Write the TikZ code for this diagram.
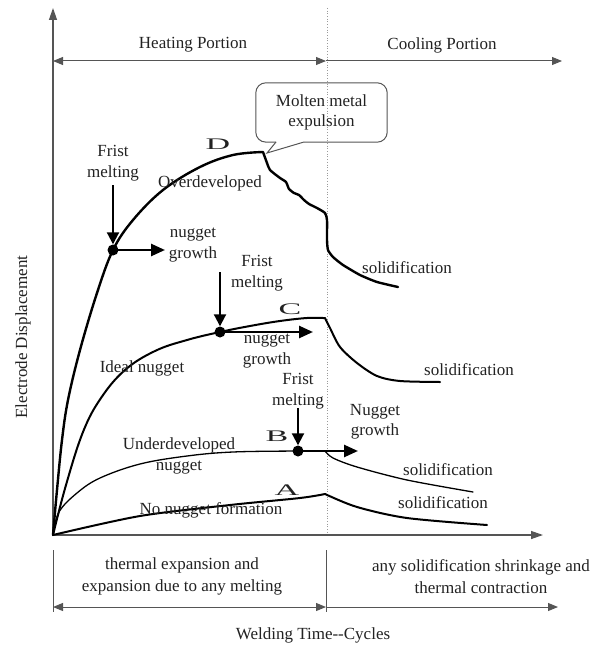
\documentclass[tikz,border=0pt]{standalone}
\usepackage{fontspec}
\usepackage{graphicx}
\setmainfont{Liberation Serif}
\usetikzlibrary{arrows.meta}

\definecolor{ink}{HTML}{222222}
\definecolor{axisgray}{HTML}{555555}
\definecolor{guidegray}{HTML}{9A9A9A}

\tikzset{
  lbl/.style={font=\fontsize{17}{20.5}\selectfont, text=ink, inner sep=0pt, align=center},
  letter/.style={font=\fontsize{17}{20}\selectfont, text=ink, inner sep=0pt},
  axisline/.style={draw=axisgray, line width=1.3pt, -{Triangle[length=12pt,width=8pt]}},
  spanline/.style={draw=axisgray, line width=1pt, {Triangle[length=10pt,width=8pt]}-{Triangle[length=10pt,width=8pt]}},
  spanright/.style={draw=axisgray, line width=1pt, -{Triangle[length=10pt,width=8pt]}},
  tick/.style={draw=axisgray, line width=1pt},
  guide/.style={draw=guidegray, line width=0.7pt, dotted},
  meltarrow/.style={draw=black, line width=2pt, -{Triangle[length=12pt,width=12pt]}},
  growarrow/.style={draw=black, line width=2.5pt, -{Triangle[length=14pt,width=12pt]}},
  dot/.style={circle, fill=black, inner sep=0pt, minimum size=11pt},
  curve/.style={draw=black, line cap=round, line join=round},
}

\begin{document}
\begin{tikzpicture}[x=1pt, y=-1pt]
\useasboundingbox (0,0) rectangle (594,650);

% axes and the heating / cooling boundary
\coordinate (O) at (53,535);
\coordinate (ytop) at (53,8);
\coordinate (xend) at (543,535);
\coordinate (gtop) at (327,8);
\coordinate (gbot) at (327,535);
\draw[guide] (gtop) -- (gbot);
\draw[axisline] (O) -- (ytop);
\draw[axisline] (O) -- (xend);

% top span arrows
\coordinate (hl) at (53,61);
\coordinate (hr) at (326,61);
\coordinate (cr) at (562,61);
\draw[spanline] (hl) -- (hr);
\draw[spanright] (hr) -- (cr);
\node[lbl] (heat) at (193,45) {Heating Portion};
\node[lbl] (cool) at (442,45) {Cooling Portion};

% bottom span arrows
\coordinate (bl1) at (53,550);
\coordinate (bl2) at (53,612);
\coordinate (bm1) at (326,550);
\coordinate (bm2) at (326,612);
\coordinate (bal) at (53,607);
\coordinate (bam) at (326,607);
\coordinate (bar) at (558,607);
\draw[tick] (bl1) -- (bl2);
\draw[tick] (bm1) -- (bm2);
\draw[spanline] (bal) -- (bam);
\draw[spanright] (bam) -- (bar);
\node[lbl] (expand) at (182,576) {thermal expansion and\\[1.5pt]expansion due to any melting};
\node[lbl] (shrink) at (481,577) {any solidification shrinkage and\\[1.5pt]thermal contraction};

% axis titles
\node[lbl] (xtitle) at (313,635) {Welding Time-{}-Cycles};
\node[lbl, rotate=90] (ytitle) at (23,337) {Electrode Displacement};

% curve D (overdeveloped, with expulsion)
\draw[curve, line width=2.4pt]
  plot[smooth, tension=0.6] coordinates {(53,535) (57,490) (62,440) (68,400) (80,350) (97,293) (113,250) (133,220) (163,190) (200,167) (233,155) (263,152)}
  -- plot[smooth, tension=0.35] coordinates {(263,152) (267,163) (270,170) (280,178) (286,182) (289,189) (294,193) (299,195) (304,200) (309,204) (317,208) (325,213) (327,220) (327,240) (328,250) (333,257) (343,265) (360,275) (377,282) (398,287)};

% curve C (ideal nugget)
\draw[curve, line width=2pt]
  plot[smooth, tension=0.65] coordinates {(53,535) (66,485) (83,432) (101,398) (125,370) (155,351) (187,340) (220,332) (250,326) (280,321) (307,318) (323,318)}
  -- plot[smooth, tension=0.5] coordinates {(325,318) (330,328) (340,347) (357,363) (377,376) (400,381) (440,382)};

% curve B (underdeveloped nugget)
\draw[curve, line width=1.3pt]
  plot[smooth, tension=0.6] coordinates {(53,535) (59,512) (77,493) (100,478) (140,464) (187,456) (233,452) (298,451) (325,451)}
  -- plot[smooth, tension=0.5] coordinates {(325,451) (333,458) (357,467) (407,480) (473,492)};

% curve A (no nugget)
\draw[curve, line width=2pt]
  plot[smooth, tension=0.5] coordinates {(53,535) (140,516) (230,505) (300,498) (325,494)}
  -- plot[smooth, tension=0.5] coordinates {(325,494) (357,507) (407,518) (487,525)};

% curve letters
\node[letter] (lD) at (218,144) {\scalebox{2}[0.95]{D}};
\node[letter] (lC) at (290,309) {\scalebox{2}[0.95]{C}};
\node[letter] (lB) at (277,436) {\scalebox{2}[0.95]{B}};
\node[letter] (lA) at (287,490) {\scalebox{2}[0.95]{A}};

% curve descriptions
\node[lbl] (over) at (210,183) {Overdeveloped};
\node[lbl] (ideal) at (142,368) {Ideal nugget};
\node[lbl] (under) at (179,456) {Underdeveloped\\nugget};
\node[lbl] (none) at (211,510) {No nugget formation};
\node[lbl] (solD) at (407,268) {solidification};
\node[lbl] (solC) at (469,370) {solidification};
\node[lbl] (solB) at (448,470) {solidification};
\node[lbl] (solA) at (443,503) {solidification};

% first melting on D
\node[dot] (mD) at (113,250) {};
\node[lbl] (fD) at (113,163) {Frist\\melting};
\coordinate (fDs) at (113,185);
\coordinate (gD) at (165,250);
\draw[meltarrow] (fDs) -- (mD.north);
\draw[growarrow] (mD.center) -- (gD);
\node[lbl] (ngD) at (193,245) {nugget\\growth};

% first melting on C
\node[dot] (mC) at (220,332) {};
\node[lbl] (fC) at (257,273) {Frist\\melting};
\coordinate (fCs) at (220,272);
\coordinate (gC) at (313,332);
\draw[meltarrow] (fCs) -- (mC.north);
\draw[growarrow] (mC.center) -- (gC);
\node[lbl] (ngC) at (267,351) {nugget\\growth};

% first melting on B
\node[dot] (mB) at (298,451) {};
\node[lbl] (fB) at (298,391) {Frist\\melting};
\coordinate (fBs) at (298,408);
\coordinate (gB) at (358,451);
\draw[meltarrow] (fBs) -- (mB.north);
\draw[growarrow] (mB.center) -- (gB);
\node[lbl] (ngB) at (375,422) {Nugget\\growth};

% expulsion callout
\node[lbl, minimum width=131pt, minimum height=59pt] (expel) at (321.5,112.5) {Molten metal\\expulsion};
\coordinate (tip) at (267,153);
\draw[draw=axisgray, line width=1pt, rounded corners=10pt]
  (276,142) -- (expel.south west) -- (expel.north west) -- (expel.north east) -- (expel.south east) -- (304,142);
\draw[draw=axisgray, line width=1pt, line join=miter] (276,142) -- (tip) -- (304,142);
\end{tikzpicture}
\end{document}
